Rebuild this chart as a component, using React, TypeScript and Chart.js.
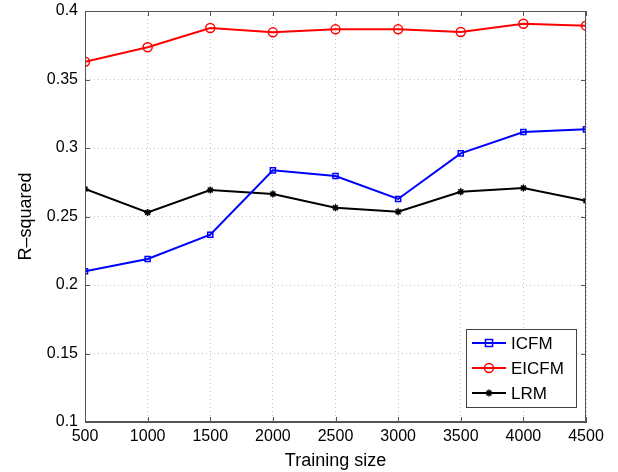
import React, { useEffect, useRef } from "react";
import { Chart, registerables } from "chart.js";

Chart.register(...registerables);

const trainingSizes = [500, 1000, 1500, 2000, 2500, 3000, 3500, 4000, 4500];
const icfm = [0.21, 0.219, 0.2367, 0.2837, 0.2796, 0.2628, 0.2961, 0.3117, 0.3136];
const eicfm = [0.363, 0.3735, 0.3876, 0.3844, 0.3866, 0.3866, 0.3847, 0.3907, 0.3893];
const lrm = [0.2701, 0.253, 0.2693, 0.2664, 0.2564, 0.2535, 0.2681, 0.2708, 0.2615];
const yTicks = [0.1, 0.15, 0.2, 0.25, 0.3, 0.35, 0.4];
const xTicks = [500, 1000, 1500, 2000, 2500, 3000, 3500, 4000, 4500];

const FONT = "'Liberation Sans', Arial, Helvetica, sans-serif";

const seriesDefs = [
  { label: "ICFM", data: icfm, color: "#0000ff", style: "rect", radius: 3.6 },
  { label: "EICFM", data: eicfm, color: "#ff0000", style: "circle", radius: 4.5 },
  { label: "LRM", data: lrm, color: "#000000", style: "star", radius: 3.5 },
];

function drawMarker(ctx: CanvasRenderingContext2D, style: string, x: number, y: number, r: number, color: string) {
  ctx.save();
  ctx.strokeStyle = color;
  ctx.lineWidth = 1.5;
  ctx.beginPath();
  if (style === "rect") {
    const s = r * Math.SQRT1_2 * 1.4;
    ctx.rect(x - s, y - s, s * 2, s * 2);
  } else if (style === "circle") {
    ctx.arc(x, y, r, 0, Math.PI * 2);
  } else {
    for (let a = 0; a < 4; a++) {
      const ang = (a * Math.PI) / 4;
      ctx.moveTo(x - Math.cos(ang) * r, y - Math.sin(ang) * r);
      ctx.lineTo(x + Math.cos(ang) * r, y + Math.sin(ang) * r);
    }
  }
  ctx.stroke();
  ctx.restore();
}

const framePlugin = {
  id: "frame",
  afterDatasetsDraw(chart: any) {
    const { ctx, chartArea } = chart;
    const { left, right, top, bottom } = chartArea;
    ctx.save();
    ctx.strokeStyle = "#555555";
    ctx.lineWidth = 1;
    ctx.strokeRect(left + 0.5, top + 0.5, right - left - 1, bottom - top - 1);
    const xs = chart.scales.x;
    const ys = chart.scales.y;
    ctx.beginPath();
    for (const v of xTicks) {
      const px = Math.round(xs.getPixelForValue(v)) + 0.5;
      ctx.moveTo(px, bottom);
      ctx.lineTo(px, bottom - 5);
      ctx.moveTo(px, top);
      ctx.lineTo(px, top + 5);
    }
    for (const v of yTicks) {
      const py = Math.round(ys.getPixelForValue(v)) + 0.5;
      ctx.moveTo(left, py);
      ctx.lineTo(left + 5, py);
      ctx.moveTo(right, py);
      ctx.lineTo(right - 5, py);
    }
    ctx.stroke();

    // legend
    const bx = 466, by = 329, bw = 110, bh = 78;
    ctx.fillStyle = "#ffffff";
    ctx.fillRect(bx, by, bw, bh);
    ctx.strokeStyle = "#444444";
    ctx.strokeRect(bx + 0.5, by + 0.5, bw, bh);
    const rows = [343, 368, 393];
    ctx.font = `17px ${FONT}`;
    ctx.textBaseline = "middle";
    seriesDefs.forEach((s, i) => {
      const y = rows[i];
      ctx.strokeStyle = s.color;
      ctx.lineWidth = 2;
      ctx.beginPath();
      ctx.moveTo(472, y);
      ctx.lineTo(506, y);
      ctx.stroke();
      drawMarker(ctx, s.style, 489, y, s.radius, s.color);
      ctx.fillStyle = "#000000";
      ctx.fillText(s.label, 511, y + 1);
    });
    ctx.restore();
  },
};

export default function App() {
  const ref = useRef<HTMLCanvasElement | null>(null);
  useEffect(() => {
    if (!ref.current) return;
    const chart = new Chart(ref.current, {
      type: "line",
      data: {
        datasets: seriesDefs.map((s) => ({
          label: s.label,
          data: trainingSizes.map((x, i) => ({ x, y: s.data[i] })),
          borderColor: s.color,
          backgroundColor: "rgba(0,0,0,0)",
          borderWidth: 2,
          pointStyle: s.style as any,
          pointRadius: s.radius,
          pointBorderWidth: 1.5,
          pointBorderColor: s.color,
          pointBackgroundColor: "rgba(0,0,0,0)",
          tension: 0,
        })),
      },
      options: {
        animation: false,
        responsive: false,
        maintainAspectRatio: false,
        layout: { padding: { left: 0, right: 32, top: 11, bottom: 0 } },
        plugins: { legend: { display: false }, tooltip: { enabled: false } },
        scales: {
          x: {
            type: "linear",
            min: 500,
            max: 4500,
            afterBuildTicks: (axis: any) => {
              axis.ticks = xTicks.map((v) => ({ value: v }));
            },
            afterFit: (axis: any) => {
              axis.height = 50;
              axis.paddingLeft = 0;
              axis.paddingRight = 0;
            },
            ticks: {
              color: "#000000",
              font: { family: FONT, size: 16 },
              padding: 5,
              maxRotation: 0,
              callback: (v: any) => String(v),
            },
            grid: {
              color: "#c4c4c4",
              lineWidth: 1,
              drawTicks: false,
            },
            border: { display: true, color: "#555555", dash: [1, 3] } as any,
            title: {
              display: true,
              text: "Training size",
              color: "#000000",
              font: { family: FONT, size: 18 },
              padding: { top: 1, bottom: 0 },
            },
          },
          y: {
            type: "linear",
            min: 0.1,
            max: 0.4,
            afterBuildTicks: (axis: any) => {
              axis.ticks = yTicks.map((v) => ({ value: v }));
            },
            afterFit: (axis: any) => {
              axis.width = 85;
              axis.paddingTop = 0;
              axis.paddingBottom = 0;
            },
            ticks: {
              color: "#000000",
              font: { family: FONT, size: 16 },
              padding: 7,
              callback: (v: any) => String(parseFloat(Number(v).toFixed(2))),
            },
            grid: {
              color: "#c4c4c4",
              lineWidth: 1,
              drawTicks: false,
            },
            border: { display: true, color: "#555555", dash: [1, 3] } as any,
            title: {
              display: true,
              text: "R\u2013squared",
              color: "#000000",
              font: { family: FONT, size: 18 },
              padding: { top: 15, bottom: 4 },
            },
          },
        },
      },
      plugins: [framePlugin],
    });
    return () => chart.destroy();
  }, []);
  return (
    <div style={{ position: "fixed", left: 0, top: 0, width: 618, height: 472, background: "#fff" }}>
      <canvas ref={ref} width={618} height={472} style={{ width: 618, height: 472 }} />
    </div>
  );
}
